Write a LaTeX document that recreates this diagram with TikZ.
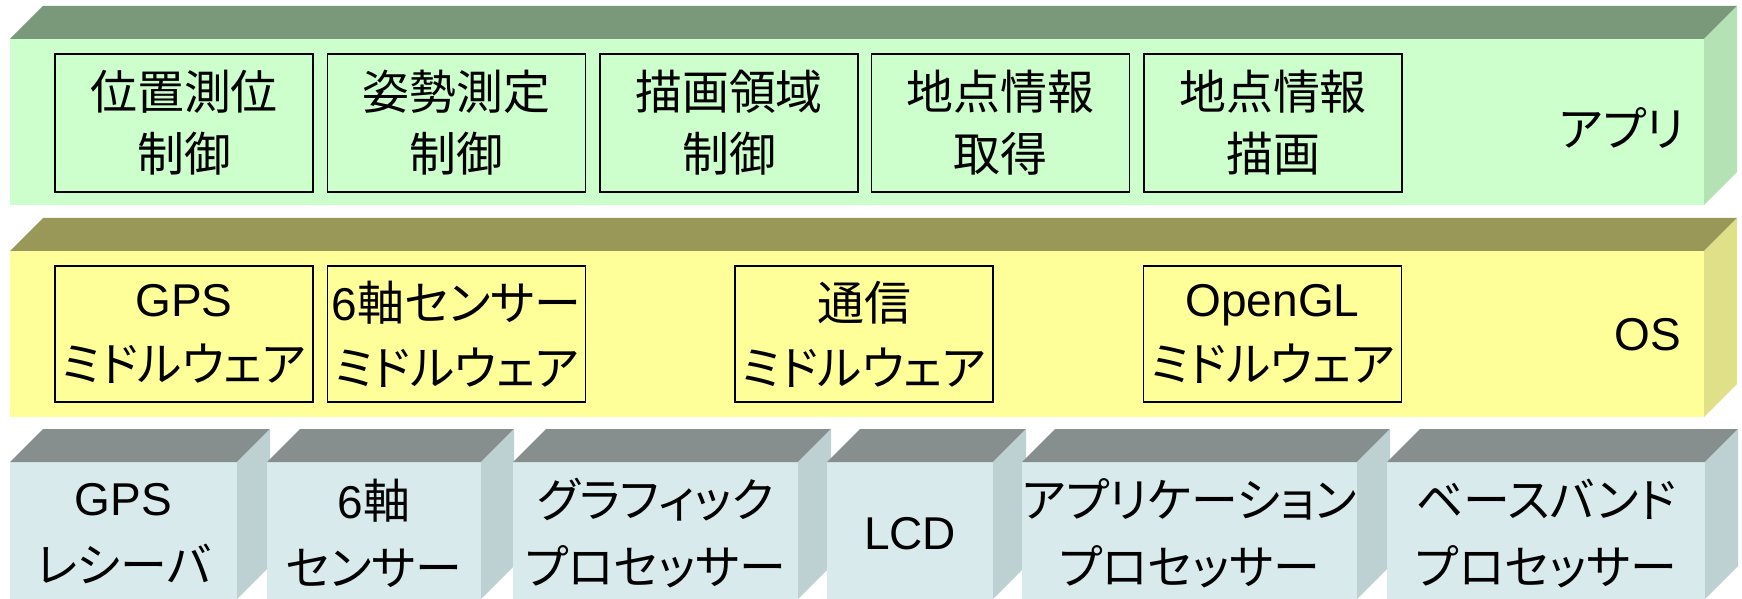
\documentclass[tikz,border=0pt]{standalone}
\usepackage{fontspec}
\setmainfont{Liberation Sans}
\newfontfamily\jpfont[RawFeature=+palt,Scale=1.02]{Noto Sans CJK JP}
\newcommand\J[1]{{\jpfont #1}}
\definecolor{appFront}{HTML}{CCFFCC}
\definecolor{appTop}{HTML}{7A987A}
\definecolor{appSide}{HTML}{B4E2B4}
\definecolor{osFront}{HTML}{FFFF99}
\definecolor{osTop}{HTML}{9A9858}
\definecolor{osSide}{HTML}{E0E088}
\definecolor{hwFront}{HTML}{D8EAEC}
\definecolor{hwTop}{HTML}{868E8E}
\definecolor{hwSide}{HTML}{BDD0D2}
\tikzset{
  slab/.style={inner sep=0pt, outer sep=0pt, anchor=north west},
  ibox/.style={draw=black, line width=1.6pt, inner sep=0pt, outer sep=0pt,
     minimum width=258pt, align=center, font=\fontsize{46}{62}\selectfont},
  lbl/.style={inner sep=0pt, font=\fontsize{46}{62}\selectfont},
  hwtext/.style={align=center, font=\fontsize{46}{67}\selectfont}
}
\newcommand\slabfaces[4]{% node, width, height, prefix
  \fill[#4Top] (#1.north west) -- ++(33,33) -- ++(#2,0) -- (#1.north east) -- cycle;
  \fill[#4Side] (#1.north east) -- ++(33,33) -- ++(0,-#3) -- (#1.south east) -- cycle;
}
\begin{document}
\begin{tikzpicture}[x=1pt,y=1pt]
\useasboundingbox (0,0) rectangle (1742,598);
% application layer
\node[slab, fill=appFront, minimum width=1694pt, minimum height=166pt] (app) at (10,559) {};
\slabfaces{app}{1694}{166}{app}
\node[ibox, minimum height=138pt] (a1) at (184,475) {\J{位置測位}\\\J{制御}};
\node[ibox, minimum height=138pt] (a2) at (456.5,475) {\J{姿勢測定}\\\J{制御}};
\node[ibox, minimum height=138pt] (a3) at (729,475) {\J{描画領域}\\\J{制御}};
\node[ibox, minimum height=138pt] (a4) at (1000.5,475) {\J{地点情報}\\\J{取得}};
\node[ibox, minimum height=138pt] (a5) at (1273,475) {\J{地点情報}\\\J{描画}};
\node[lbl] (applbl) at (1622,470) {\J{アプリ}};
% OS layer
\node[slab, fill=osFront, minimum width=1694pt, minimum height=166pt] (os) at (10,347) {};
\slabfaces{os}{1694}{166}{os}
\node[ibox, minimum height=136pt, font=\fontsize{46}{65}\selectfont] (m1) at (184,264) {GPS\\\J{ミドルウェア}};
\node[ibox, minimum height=136pt, font=\fontsize{46}{65}\selectfont] (m2) at (456.5,264) {6\J{軸センサー}\\\J{ミドルウェア}};
\node[ibox, minimum height=136pt, font=\fontsize{46}{65}\selectfont] (m3) at (864,264) {\J{通信}\\\J{ミドルウェア}};
\node[ibox, minimum height=136pt, font=\fontsize{46}{65}\selectfont] (m4) at (1272.5,264) {OpenGL\\\J{ミドルウェア}};
\node[lbl] (oslbl) at (1648,263) {OS};
% hardware blocks
\node[slab, fill=hwFront, minimum width=227pt, minimum height=137pt] (h1) at (10,136) {};
\slabfaces{h1}{227}{137}{hw}
\node[slab, fill=hwFront, minimum width=214pt, minimum height=137pt] (h2) at (267,136) {};
\slabfaces{h2}{214}{137}{hw}
\node[slab, fill=hwFront, minimum width=285pt, minimum height=137pt] (h3) at (513,136) {};
\slabfaces{h3}{285}{137}{hw}
\node[slab, fill=hwFront, minimum width=166pt, minimum height=137pt] (h4) at (827,136) {};
\slabfaces{h4}{166}{137}{hw}
\node[slab, fill=hwFront, minimum width=335pt, minimum height=137pt] (h5) at (1022,136) {};
\slabfaces{h5}{335}{137}{hw}
\node[slab, fill=hwFront, minimum width=318pt, minimum height=137pt] (h6) at (1387,136) {};
\slabfaces{h6}{318}{137}{hw}
\node[hwtext] (t1) at ([yshift=-3pt]h1.center) {GPS\\\J{レシーバ}};
\node[hwtext] (t2) at ([yshift=-3pt]h2.center) {6\J{軸}\\\J{センサー}};
\node[hwtext] (t3) at ([yshift=-3pt]h3.center) {\J{グラフィック}\\\J{プロセッサー}};
\node[hwtext] (t4) at ([yshift=-3pt]h4.center) {LCD};
\node[hwtext] (t5) at ([yshift=-3pt]h5.center) {\J{アプリケーション}\\\J{プロセッサー}};
\node[hwtext] (t6) at ([yshift=-3pt]h6.center) {\J{ベースバンド}\\\J{プロセッサー}};
\end{tikzpicture}
\end{document}
